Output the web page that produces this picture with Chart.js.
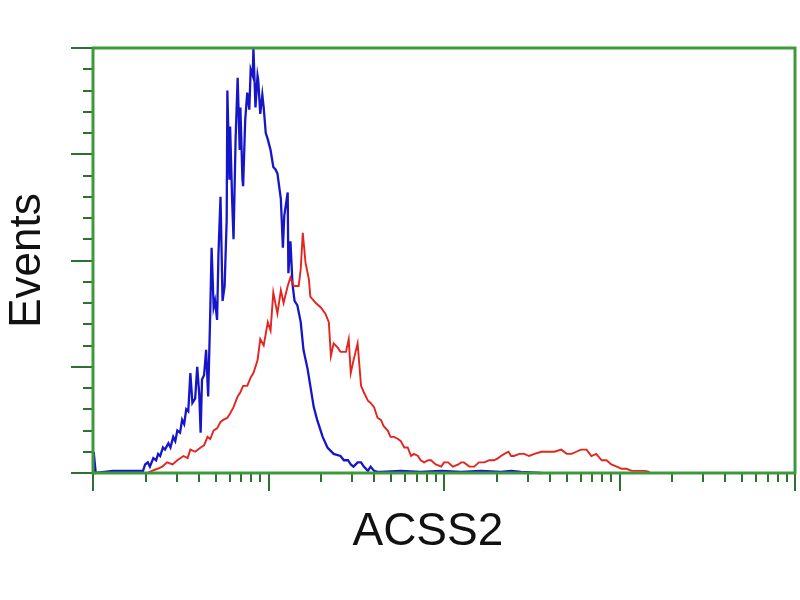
<!DOCTYPE html>
<html>
<head>
<meta charset="utf-8">
<script src="https://cdn.jsdelivr.net/npm/chart.js@4/dist/chart.umd.min.js"></script>
<style>
  html, body { margin: 0; padding: 0; background: #fff; }
  #wrap { width: 800px; height: 600px; }
</style>
</head>
<body>
<div id="wrap"><canvas id="histChart" width="800" height="600"></canvas></div>
<script>
// channels run 0..1024 over four log decades (256 channels per decade)
const blueChannels = [0, 1, 4, 29, 73, 76, 80, 83, 88, 92, 95, 98, 102, 105, 110, 113, 117, 120, 123, 127,
    130, 133, 136, 139, 142, 145, 149, 152, 155, 157, 159, 162, 165, 168, 171, 173, 176, 178, 181, 183,
    186, 189, 192, 195, 196, 199, 200, 203, 205, 208, 211, 214, 215, 218, 219, 222, 225, 228, 230, 233,
    234, 237, 240, 241, 244, 247, 249, 252, 255, 259, 263, 266, 269, 274, 277, 279, 284, 285, 288, 291,
    294, 298, 303, 307, 313, 317, 322, 327, 335, 342, 351, 361, 366, 372, 376, 380, 386, 391, 395, 401,
    405, 410, 415, 420, 449, 478, 508, 537, 566, 595, 610, 624, 654];
const blueCounts = [0, 10, 0, 1, 1, 4, 5, 3, 7, 6, 9, 8, 12, 11, 14, 12, 17, 15, 20, 19,
    25, 23, 30, 29, 47, 33, 35, 50, 37, 19, 44, 46, 58, 36, 75, 106, 78, 81, 72, 103,
    130, 81, 88, 119, 180, 138, 163, 128, 110, 157, 186, 152, 172, 138, 135, 166, 179, 171, 190, 187,
    200, 172, 187, 185, 169, 178, 172, 160, 157, 152, 144, 143, 141, 129, 106, 121, 132, 94, 109, 89,
    81, 79, 71, 58, 49, 41, 31, 25, 17, 12, 9, 8, 6, 6, 4, 3, 5, 5, 3, 1,
    3, 1, 0.5, 0.5, 1, 0.5, 1, 0.5, 1, 0.5, 1, 0.5, 0];

const redChannels = [79, 86, 94, 101, 108, 116, 123, 132, 138, 142, 149, 157, 162, 167, 171, 176, 181, 186, 190, 196,
    200, 205, 211, 215, 219, 225, 230, 234, 240, 244, 249, 255, 259, 263, 269, 274, 278, 284, 288, 293,
    300, 303, 306, 310, 315, 317, 325, 332, 339, 344, 347, 351, 357, 361, 369, 373, 376, 380, 386, 391,
    395, 401, 405, 410, 415, 420, 424, 430, 434, 439, 445, 449, 454, 459, 464, 468, 474, 478, 483, 489,
    493, 500, 508, 512, 518, 525, 533, 537, 541, 549, 556, 563, 571, 578, 585, 591, 595, 600, 606, 610,
    614, 622, 629, 636, 644, 654, 664, 673, 683, 691, 698, 705, 712, 720, 727, 734, 742, 749, 756, 764,
    771, 778, 786, 796, 805, 812];
const redCounts = [0, 1, 2, 3, 5, 4, 6, 8, 7, 11, 10, 12, 13, 17, 16, 20, 21, 24, 25, 26,
    28, 31, 36, 38, 41, 41, 45, 47, 53, 63, 60, 71, 67, 85, 75, 86, 80, 88, 92, 88,
    88, 96, 113, 99, 91, 83, 80, 78, 75, 71, 55, 61, 59, 57, 57, 63, 47, 53, 61, 41,
    38, 34, 33, 31, 26, 25, 22, 20, 17, 17, 16, 15, 12, 12, 8, 9, 8, 6, 5, 6,
    6, 4, 3, 5, 5, 3, 4, 5, 5, 3, 3, 5, 5, 6, 6, 7, 8, 9, 10, 8,
    8, 9, 9, 8, 9, 10, 10, 10, 11, 9, 9, 10, 11, 11, 8, 9, 6, 6, 4, 3,
    2, 2, 1, 1, 1, 0.5];

const xDecadeTicks = [0, 256, 512, 768, 1024];
const xLogSteps = [2, 3, 4, 5, 6, 7, 8, 9];
const yMajorTicks = [0, 50, 100, 150, 200];
const yMinorStep = 10;

// trailing spaces nudge the centred axis title a little to the left, as in the original
const xTitle = 'ACSS2\u2002\u2009';
const yTitle = 'Events';

function toPoints(xs, ys) {
    return xs.map(function (v, i) { return { x: v, y: ys[i] }; });
}

// frame and tick marks (major / minor of different length)
const frameTicks = {
    id: 'frameTicks',
    afterDatasetsDraw(chart) {
        const ctx = chart.ctx;
        const area = chart.chartArea;
        const xs = chart.scales.x;
        const ys = chart.scales.y;
        ctx.save();
        ctx.strokeStyle = '#2f6f2f';
        ctx.lineWidth = 2;
        ctx.beginPath();
        for (let v = 0; v <= 200; v += yMinorStep) {
            const py = Math.round(ys.getPixelForValue(v));
            const len = yMajorTicks.includes(v) ? 22 : 10;
            ctx.moveTo(area.left - len, py);
            ctx.lineTo(area.left, py);
        }
        for (let d = 0; d < xDecadeTicks.length; d++) {
            const base = xDecadeTicks[d];
            let px = Math.round(xs.getPixelForValue(base));
            ctx.moveTo(px, area.bottom);
            ctx.lineTo(px, area.bottom + 18);
            if (d === xDecadeTicks.length - 1) break;
            xLogSteps.forEach(function (k) {
                const val = base + 256 * Math.log10(k);
                px = Math.round(xs.getPixelForValue(val));
                ctx.moveTo(px, area.bottom);
                ctx.lineTo(px, area.bottom + 9);
            });
        }
        ctx.stroke();
        ctx.strokeStyle = '#3c9a3c';
        ctx.lineWidth = 3;
        ctx.strokeRect(area.left, area.top, area.right - area.left, area.bottom - area.top);
        ctx.restore();
    }
};

document.addEventListener('DOMContentLoaded', function () {
    const ctx = document.getElementById('histChart').getContext('2d');
    const histChart = new Chart(ctx, {
        type: 'line',
        data: {
            datasets: [{
                label: 'ACSS2',
                data: toPoints(redChannels, redCounts),
                borderColor: '#e3241f',
                borderWidth: 1.9,
                pointRadius: 0,
                fill: false,
                tension: 0
            }, {
                label: 'Control',
                data: toPoints(blueChannels, blueCounts),
                borderColor: '#1616c8',
                borderWidth: 2.3,
                pointRadius: 0,
                fill: false,
                tension: 0
            }]
        },
        options: {
            responsive: false,
            animation: false,
            devicePixelRatio: 1,
            clip: false,
            layout: { padding: { top: 48, right: 5, left: 0, bottom: 0 } },
            plugins: { legend: { display: false }, tooltip: { enabled: false } },
            scales: {
                x: {
                    type: 'linear',
                    min: 0,
                    max: 1024,
                    grid: { display: false },
                    border: { display: false },
                    ticks: { display: false },
                    afterFit: function (scale) { scale.height = 127; },
                    title: {
                        display: true,
                        text: xTitle,
                        color: '#111',
                        font: { family: 'Liberation Sans, Arial, sans-serif', size: 46 },
                        padding: { top: 0, bottom: 40 }
                    }
                },
                y: {
                    min: 0,
                    max: 200,
                    grid: { display: false },
                    border: { display: false },
                    ticks: { display: false },
                    afterFit: function (scale) { scale.width = 93; },
                    title: {
                        display: true,
                        text: yTitle,
                        color: '#111',
                        font: { family: 'Liberation Sans, Arial, sans-serif', size: 44 },
                        padding: { top: 1, bottom: 0 }
                    }
                }
            }
        },
        plugins: [frameTicks]
    });
});
</script>
</body>
</html>
